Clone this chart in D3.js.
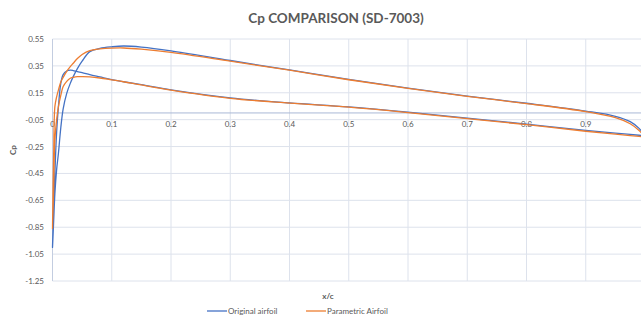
<!DOCTYPE html>
<html>
<head>
<meta charset="utf-8">
<script src="https://cdn.jsdelivr.net/npm/d3@7"></script>
<style>
  body { margin: 0; background: #fff; }
  text { font-family: Lato, "Open Sans", sans-serif; fill: #595959; }
</style>
</head>
<body>
<div id="chart"></div>
<script>
// chord stations (x/c) shared by all four traces
var xStations = [0, 0.002, 0.004, 0.007, 0.01, 0.014, 0.018, 0.024, 0.03, 0.035, 0.042, 0.05, 0.063, 0.08,
                 0.1, 0.12, 0.15, 0.2, 0.3, 0.4, 0.5, 0.6, 0.7, 0.8, 0.9, 0.95, 0.975, 0.99, 1.0];

// original airfoil
var origUpper = [-1.0, -0.8, -0.6, -0.42, -0.3, -0.11, 0.03, 0.146, 0.22, 0.27, 0.33, 0.385, 0.456, 0.48,
                 0.492, 0.498, 0.49, 0.462, 0.39, 0.32, 0.25, 0.185, 0.125, 0.072, 0.014, -0.025, -0.065, -0.115, -0.17];
var origLower = [-1.0, -0.7, -0.45, -0.14, 0.047, 0.22, 0.285, 0.312, 0.318, 0.315, 0.307, 0.3, 0.285, 0.268,
                 0.248, 0.232, 0.21, 0.172, 0.112, 0.075, 0.045, 0.006, -0.039, -0.083, -0.13, -0.15, -0.16, -0.166, -0.17];

// parametric airfoil
var paramUpper = [-0.86, -0.3, 0.047, 0.12, 0.17, 0.23, 0.265, 0.31, 0.345, 0.37, 0.405, 0.435, 0.464, 0.476,
                  0.482, 0.483, 0.474, 0.45, 0.385, 0.318, 0.247, 0.183, 0.123, 0.07, 0.01, -0.035, -0.08, -0.13, -0.18];
var paramLower = [-0.86, -0.55, -0.2, -0.05, 0.047, 0.13, 0.196, 0.235, 0.258, 0.265, 0.27, 0.27, 0.268, 0.26,
                  0.246, 0.232, 0.208, 0.17, 0.109, 0.073, 0.043, 0.003, -0.042, -0.087, -0.136, -0.158, -0.168, -0.175, -0.18];

var yTicks = [0.55, 0.35, 0.15, -0.05, -0.25, -0.45, -0.65, -0.85, -1.05, -1.25];
var xTicks = [0, 0.1, 0.2, 0.3, 0.4, 0.5, 0.6, 0.7, 0.8, 0.9];

var seriesNames = ["Original airfoil", "Parametric Airfoil"];
var seriesColors = ["#4472c4", "#ed7d31"];

var W = 641, H = 320;
var x = d3.scaleLinear().domain([0, 1]).range([52.5, 645]);
var y = d3.scaleLinear().domain([-1.25, 0.55]).range([281, 39]);

var svg = d3.select("#chart").append("svg")
    .attr("width", W)
    .attr("height", H);

// title
svg.append("text")
    .attr("x", 336).attr("y", 23)
    .attr("text-anchor", "middle")
    .style("font-size", "13.5px")
    .style("font-weight", "bold")
    .text("Cp COMPARISON (SD-7003)");

// grid
svg.append("g").selectAll("line").data(yTicks).enter().append("line")
    .attr("x1", x(0)).attr("x2", W)
    .attr("y1", function(d) { return y(d); })
    .attr("y2", function(d) { return y(d); })
    .attr("stroke", "#dde2ec").attr("stroke-width", 1);

svg.append("g").selectAll("line").data(xTicks.slice(1)).enter().append("line")
    .attr("x1", function(d) { return x(d); })
    .attr("x2", function(d) { return x(d); })
    .attr("y1", y(0.55)).attr("y2", y(-1.25))
    .attr("stroke", "#dde2ec").attr("stroke-width", 1);

// axis lines
svg.append("line")
    .attr("x1", x(0)).attr("x2", W)
    .attr("y1", y(0)).attr("y2", y(0))
    .attr("stroke", "#a9b8d6").attr("stroke-width", 1);
svg.append("line")
    .attr("x1", x(0)).attr("x2", x(0))
    .attr("y1", y(0.55)).attr("y2", y(-1.25))
    .attr("stroke", "#c3cde0").attr("stroke-width", 1);

// y tick labels
svg.append("g").selectAll("text").data(yTicks).enter().append("text")
    .attr("x", 44)
    .attr("y", function(d) { return y(d) + 3; })
    .attr("text-anchor", "end")
    .style("font-size", "8px")
    .text(function(d) { return d.toFixed(2); });

// x tick labels, hung under the zero line
svg.append("g").selectAll("text").data(xTicks).enter().append("text")
    .attr("x", function(d) { return x(d); })
    .attr("y", y(0) + 14)
    .attr("text-anchor", "middle")
    .style("font-size", "8px")
    .text(function(d) { return d === 0 ? "0" : d.toFixed(1); });

// axis titles
svg.append("text")
    .attr("transform", "translate(16,150) rotate(-90)")
    .attr("text-anchor", "middle")
    .style("font-size", "8px")
    .style("font-weight", "bold")
    .text("Cp");

svg.append("text")
    .attr("x", 328).attr("y", 299)
    .attr("text-anchor", "middle")
    .style("font-size", "8px")
    .style("font-weight", "bold")
    .text("x/c");

// loop: lower surface TE -> LE, then upper surface LE -> TE
function loop(lower, upper) {
  var pts = [];
  for (var i = xStations.length - 1; i >= 0; i--) pts.push([xStations[i], lower[i]]);
  for (var j = 1; j < xStations.length; j++) pts.push([xStations[j], upper[j]]);
  return pts;
}

var line = d3.line()
    .x(function(d) { return x(d[0]); })
    .y(function(d) { return y(d[1]); })
    .curve(d3.curveCatmullRom.alpha(0.5));

var loops = [loop(origLower, origUpper), loop(paramLower, paramUpper)];

svg.append("g").selectAll("path").data(loops).enter().append("path")
    .attr("d", line)
    .attr("fill", "none")
    .attr("stroke", function(d, i) { return seriesColors[i]; })
    .attr("stroke-width", 1.3);

// legend
var legendX = [207, 306];
var leg = svg.append("g").selectAll("g").data(seriesNames).enter().append("g")
    .attr("transform", function(d, i) { return "translate(" + legendX[i] + ",311)"; });
leg.append("line")
    .attr("x1", 0).attr("x2", 20)
    .attr("stroke", function(d, i) { return seriesColors[i]; })
    .attr("stroke-width", 1.3);
leg.append("text")
    .attr("x", 21).attr("y", 3)
    .style("font-size", "8px")
    .text(function(d) { return d; });
</script>
</body>
</html>
